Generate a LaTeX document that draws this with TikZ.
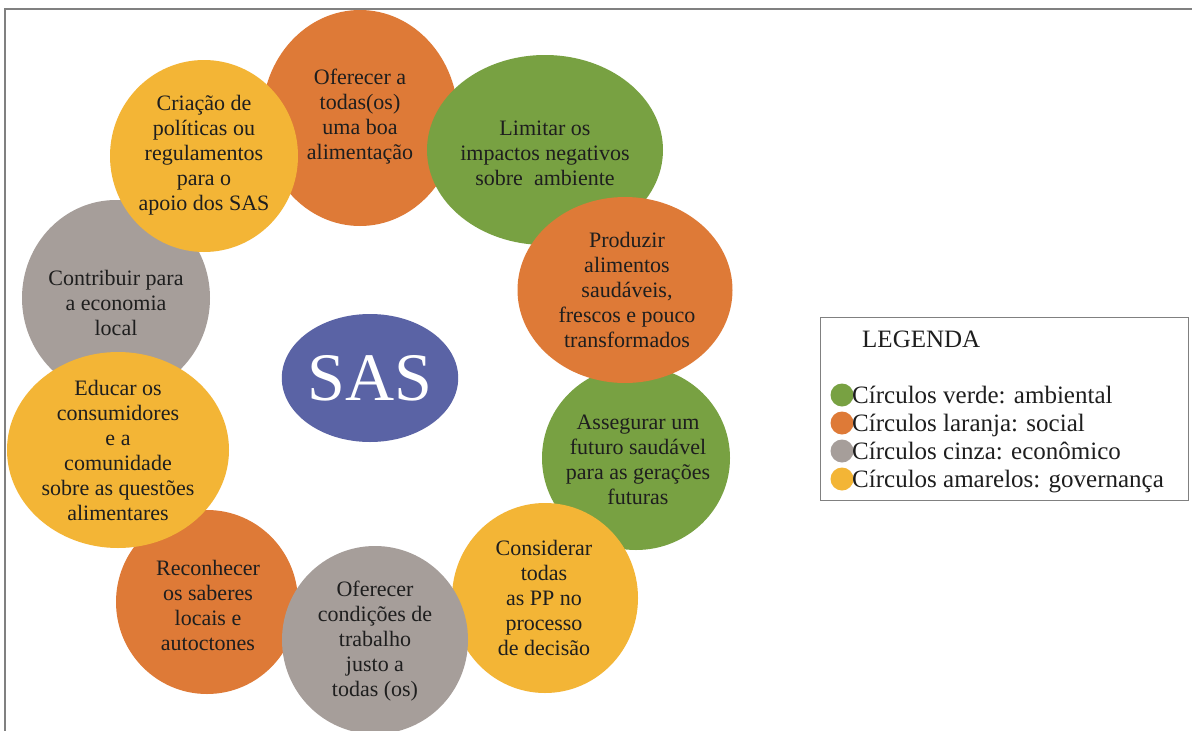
\documentclass[tikz,border=0pt]{standalone}
\usepackage{fontspec}
\setmainfont{Liberation Serif}
\usetikzlibrary{shapes.geometric}
\pgfdeclarelayer{bg}
\pgfsetlayers{bg,main}
\definecolor{cOrange}{HTML}{DE7A37}
\definecolor{cGreen}{HTML}{78A142}
\definecolor{cGray}{HTML}{A69E9A}
\definecolor{cYellow}{HTML}{F3B536}
\definecolor{cBlue}{HTML}{5A63A5}
\definecolor{cLine}{HTML}{D3885A}
\definecolor{cFrame}{HTML}{808080}
\definecolor{cText}{HTML}{1E1E1E}
\begin{document}
\begin{tikzpicture}[x=1pt,y=-1pt,
  bub/.style={ellipse, inner sep=0pt, draw=none},
  lbl/.style={align=center, text=cText, font=\fontsize{22}{25}\selectfont, inner sep=0pt},
  conn/.style={draw=cLine, line width=3pt},
  legtxt/.style={anchor=base west, text=cText, font=\fontsize{25}{28}\selectfont, inner sep=0pt},
  legdot/.style={circle, inner sep=0pt, minimum size=23pt}]
\useasboundingbox (0,0) rectangle (1192,731);
\clip (0,0) rectangle (1192,731);
\fill[white] (0,0) rectangle (1192,731);
% frame
\draw[cFrame, line width=2pt] (5,735) -- (5,9) -- (1196,9);

% bubbles (drawing order sets overlap)
\node[bub, fill=cOrange, minimum width=196pt, minimum height=216pt] (b1) at (360,118) {};
\node[lbl] (t1) at (360,117) {Oferecer a\\todas(os)\\uma boa\\alimentação};

\node[bub, fill=cGreen, minimum width=236pt, minimum height=190pt] (b2) at (545,150) {};
\node[lbl] (t2) at (545,153) {Limitar os\\impactos negativos\\sobre\ \ ambiente};

\node[bub, fill=cGreen, minimum width=188pt, minimum height=184pt] (b4) at (636,458) {};
\node[lbl] (t4) at (638,460) {Assegurar um\\futuro saudável\\para as gerações\\futuras};

\node[bub, fill=cOrange, minimum width=215pt, minimum height=186pt] (b3) at (625,290) {};
\node[lbl] (t3) at (627,290) {Produzir\\alimentos\\saudáveis,\\frescos e pouco\\transformados};

\node[bub, fill=cYellow, minimum width=186pt, minimum height=190pt] (b5) at (545,598) {};
\node[lbl] (t5) at (544,598) {Considerar\\todas\\as PP no\\processo\\de decisão};

\node[bub, fill=cOrange, minimum width=182pt, minimum height=184pt] (b7) at (207,602) {};
\node[lbl] (t7) at (208,605) {Reconhecer\\os saberes\\locais e\\autoctones};

\node[bub, fill=cGray, minimum width=186pt, minimum height=188pt] (b6) at (375,640) {};
\node[lbl] (t6) at (375,641) {Oferecer\\condições de\\trabalho\\justo a\\todas (os)};

\node[bub, fill=cGray, minimum width=188pt, minimum height=196pt] (b9) at (116,298) {};
\node[lbl] (t9) at (116,303) {Contribuir para\\a economia\\local};

\node[bub, fill=cYellow, minimum width=222pt, minimum height=196pt] (b8) at (118,450) {};
\node[lbl] (t8) at (118,450) {Educar os\\consumidores\\e a\\comunidade\\sobre as questões\\alimentares};

\node[bub, fill=cYellow, minimum width=188pt, minimum height=192pt] (b10) at (204,156) {};
\node[lbl] (t10) at (204,155) {Criação de\\políticas ou\\regulamentos\\para o\\apoio dos SAS};

% centre
\node[bub, fill=cBlue, minimum width=136pt, minimum height=128pt, text=white,
      font=\fontsize{68}{70}\selectfont] (sas) at (370,378) {SAS};

% connectors behind
\begin{pgfonlayer}{bg}
\foreach \n in {b1,b2,b3,b4,b5,b6,b7,b8,b9,b10}
  \draw[conn] (sas.center) -- (\n.center);
\end{pgfonlayer}

% legend
\node[draw=cFrame, line width=1.2pt, anchor=north west, minimum width=368pt,
      minimum height=183pt, inner sep=0pt] (legend) at (820,317) {};
\node[legtxt] (lgt) at (862,347) {LEGENDA};
\node[legdot, fill=cGreen] (d1) at (842,395) {};
\node[legtxt] (l1) at (852,403) {Círculos verde: ambiental};
\node[legdot, fill=cOrange] (d2) at (842,423) {};
\node[legtxt] (l2) at (852,431) {Círculos laranja: social};
\node[legdot, fill=cGray] (d3) at (842,451) {};
\node[legtxt] (l3) at (852,459) {Círculos cinza: econômico};
\node[legdot, fill=cYellow] (d4) at (842,479) {};
\node[legtxt] (l4) at (852,487) {Círculos amarelos: governança};
\end{tikzpicture}
\end{document}
